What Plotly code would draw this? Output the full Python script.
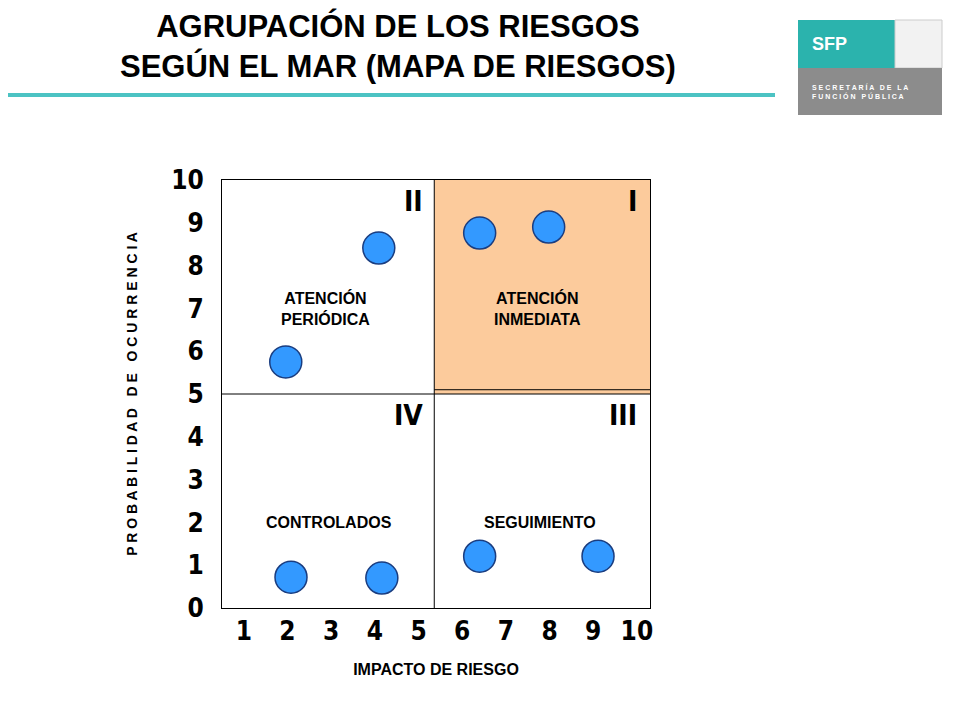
import plotly.graph_objects as go

impacto = [1.96, 4.09, 6.40, 7.98, 2.08, 4.16, 6.40, 9.11]
probabilidad = [5.75, 8.41, 8.76, 8.90, 0.72, 0.70, 1.21, 1.21]
x_ticks = [1, 2, 3, 4, 5, 6, 7, 8, 9, 10]
y_ticks = [0, 1, 2, 3, 4, 5, 6, 7, 8, 9, 10]
cuadrantes = [("II", 5.15, 9.5), ("I", 10.05, 9.5), ("IV", 5.15, 4.5), ("III", 10.05, 4.5)]
etiquetas = [("ATENCIÓN<br>PERIÓDICA", 2.87, 7.0), ("ATENCIÓN<br>INMEDIATA", 7.72, 7.0),
             ("CONTROLADOS", 2.95, 2.0), ("SEGUIMIENTO", 7.78, 2.0)]
x_mid, y_mid = 5.36, 5.0

narrow = "DejaVu Sans Condensed, Liberation Sans Narrow, Liberation Sans"


def px_x(p):
    return (p - 222) / 428


def px_y(p):
    return (608 - p) / 428


fig = go.Figure()
fig.add_shape(type="rect", x0=x_mid, x1=10.3, y0=y_mid, y1=10, fillcolor="#fccb9c",
              line=dict(width=0), layer="below")
fig.add_shape(type="line", x0=x_mid, x1=x_mid, y0=0, y1=10, line=dict(color="black", width=1))
fig.add_shape(type="line", x0=0.5, x1=10.3, y0=y_mid, y1=y_mid, line=dict(color="black", width=1))
fig.add_shape(type="line", x0=x_mid, x1=10.3, y0=y_mid + 0.1, y1=y_mid + 0.1, line=dict(color="black", width=1))

fig.add_trace(go.Scatter(x=impacto, y=probabilidad, mode="markers",
                         marker=dict(size=32, color="#3399ff", line=dict(color="#1a3d80", width=1.5)),
                         showlegend=False, hoverinfo="skip"))

for t, x, y in cuadrantes:
    fig.add_annotation(x=x, y=y, text="<b>%s</b>" % t, showarrow=False, xanchor="right",
                       font=dict(size=28, family=narrow, color="black"))
for t, x, y in etiquetas:
    fig.add_annotation(x=x, y=y, text="<b>%s</b>" % t, showarrow=False,
                       font=dict(size=16, family="Liberation Sans", color="black"))

# title and header
fig.add_annotation(xref="paper", yref="paper", x=px_x(398), y=px_y(46), xanchor="center", yanchor="middle",
                   text="<b>AGRUPACIÓN DE LOS RIESGOS<br>SEGÚN EL MAR (MAPA DE RIESGOS)</b>",
                   showarrow=False, font=dict(size=31, family="Liberation Sans", color="black"))
fig.add_shape(type="line", xref="paper", yref="paper", x0=px_x(0), x1=px_x(775), y0=px_y(95), y1=px_y(95),
              line=dict(color="#4cc3c3", width=4))
fig.add_shape(type="rect", xref="paper", yref="paper", x0=px_x(798), x1=px_x(895), y0=px_y(20), y1=px_y(68),
              fillcolor="#2bb3ad", line=dict(width=0))
fig.add_shape(type="rect", xref="paper", yref="paper", x0=px_x(895), x1=px_x(942), y0=px_y(20), y1=px_y(68),
              fillcolor="#f2f2f2", line=dict(color="#cccccc", width=1))
fig.add_shape(type="rect", xref="paper", yref="paper", x0=px_x(798), x1=px_x(942), y0=px_y(68), y1=px_y(115),
              fillcolor="#8c8c8c", line=dict(width=0))
fig.add_annotation(xref="paper", yref="paper", x=px_x(810), y=px_y(44), xanchor="left", yanchor="middle",
                   text="<b>SFP</b>", showarrow=False,
                   font=dict(size=18, color="white", family="Liberation Sans"))
fig.add_annotation(xref="paper", yref="paper", x=px_x(810), y=px_y(92), xanchor="left", yanchor="middle",
                   align="left", text="<b>S E C R E T A R Í A   D E   L A<br>F U N C I Ó N   P Ú B L I C A</b>",
                   showarrow=False, font=dict(size=7, color="white", family="Liberation Sans"))

fig.update_layout(
    width=960, height=720, paper_bgcolor="white", plot_bgcolor="white",
    margin=dict(l=214, r=318, t=172, b=120),
    xaxis=dict(range=[0.5, 10.3], tickvals=x_ticks, showgrid=False, zeroline=False, automargin=False,
               showline=True, mirror=True, linecolor="black", linewidth=1,
               tickfont=dict(size=26, family=narrow, color="black", weight="bold"), ticklen=0,
               title=dict(text="<b>IMPACTO DE RIESGO</b>", font=dict(size=16, family="Liberation Sans", color="black"),
                          standoff=18)),
    yaxis=dict(range=[0, 10], tickvals=y_ticks, showgrid=False, zeroline=False, automargin=False,
               showline=True, mirror=True, linecolor="black", linewidth=1,
               tickfont=dict(size=26, family=narrow, color="black", weight="bold"), ticklen=12, ticks="outside",
               tickcolor="white",
               title=dict(text="<b>P R O B A B I L I D A D   D E   O C U R R E N C I A</b>",
                          font=dict(size=14, family="Liberation Sans", color="black"), standoff=30)),
)
fig.write_html("out.html")
